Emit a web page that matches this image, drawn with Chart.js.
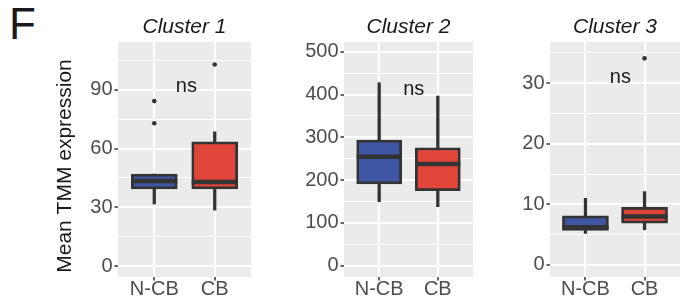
<!DOCTYPE html>
<html>
<head>
<meta charset="utf-8">
<script src="https://cdn.jsdelivr.net/npm/chart.js@4.4.1/dist/chart.umd.min.js"></script>
<style>
  html, body { margin: 0; padding: 0; background: #fff; }
  #wrap { position: relative; width: 684px; height: 301px; overflow: hidden; }
  #wrap canvas { position: absolute; top: 0; }
  #panelLetter {
    position: absolute; left: 9px; top: 2px;
    font: 44px/44px "Liberation Sans", Arial, sans-serif; color: #1a1a1a;
  }
</style>
</head>
<body>
<div id="wrap">
  <div id="panelLetter">F</div>
  <canvas id="c1" width="258" height="301" style="left:0px"></canvas>
  <canvas id="c2" width="210" height="301" style="left:266px"></canvas>
  <canvas id="c3" width="208" height="301" style="left:476px"></canvas>
</div>
<script>
const categories = ["N-CB", "CB"];
const clusterTitles = ["Cluster 1", "Cluster 2", "Cluster 3"];
const yAxisTitle = "Mean TMM expression";
const sigLabel = "ns";

// box stats, one value per category [N-CB, CB]
const cluster1Low = [31.7, 28.6];
const cluster1Q1 = [39.4, 39.4];
const cluster1Median = [43.4, 43.0];
const cluster1Q3 = [47.0, 63.5];
const cluster1High = [47.0, 68.6];
const cluster1Outliers = [[84.3, 73.0], [103.0]];

const cluster2Low = [149.5, 137.9];
const cluster2Q1 = [190.9, 175.2];
const cluster2Median = [254.7, 237.6];
const cluster2Q3 = [293.7, 275.7];
const cluster2High = [427.6, 396.5];
const cluster2Outliers = [[], []];

const cluster3Low = [5.2, 5.8];
const cluster3Q1 = [5.7, 6.9];
const cluster3Median = [6.2, 8.0];
const cluster3Q3 = [8.1, 9.5];
const cluster3High = [11.0, 12.1];
const cluster3Outliers = [[], [34.1]];

// y axes
const cluster1Range = [-5.6, 114.5];
const cluster1Ticks = [0, 30, 60, 90];
const cluster1Minor = [15, 45, 75, 105];
const cluster2Range = [-26.4, 522.7];
const cluster2Ticks = [0, 100, 200, 300, 400, 500];
const cluster2Minor = [50, 150, 250, 350, 450];
const cluster3Range = [-2.0, 36.8];
const cluster3Ticks = [0, 10, 20, 30];
const cluster3Minor = [5, 15, 25, 35];

// where the "ns" label sits: [x position, y value]
const cluster1Sig = [1.53, 92];
const cluster2Sig = [1.59, 412];
const cluster3Sig = [1.59, 31.0];

const FONT = "'Liberation Sans', Arial, Helvetica, sans-serif";
const boxColors = ["#3F56A5", "#E0453A"];
const ink = "#333333";
const tickInk = "#4D4D4D";

const panelDecor = {
    id: "panelDecor",
    beforeDraw(chart) {
        const { ctx, chartArea: a } = chart;
        ctx.save();
        ctx.fillStyle = "#EBEBEB";
        ctx.fillRect(a.left, a.top, a.right - a.left, a.bottom - a.top);
        ctx.restore();
    },
    afterDatasetsDraw(chart, args, opts) {
        const { ctx } = chart;
        const yScale = chart.scales.y;
        const boxes = chart.getDatasetMeta(1).data;
        ctx.save();
        ctx.strokeStyle = ink;
        ctx.lineWidth = 4.5;
        boxes.forEach((bar, i) => {
            const y = yScale.getPixelForValue(opts.medians[i]);
            ctx.beginPath();
            ctx.moveTo(bar.x - bar.width / 2, y);
            ctx.lineTo(bar.x + bar.width / 2, y);
            ctx.stroke();
        });
        ctx.restore();
    },
    afterDraw(chart, args, opts) {
        const { ctx, chartArea: a } = chart;
        ctx.save();
        ctx.fillStyle = "#1a1a1a";
        ctx.textAlign = "center";
        ctx.textBaseline = "alphabetic";
        ctx.font = "italic 21px " + FONT;
        ctx.fillText(opts.title, (a.left + a.right) / 2, 33);

        ctx.font = "20px " + FONT;
        ctx.textBaseline = "middle";
        ctx.fillText(sigLabel,
            chart.scales.x.getPixelForValue(opts.sig[0]),
            chart.scales.y.getPixelForValue(opts.sig[1]));

        if (opts.yTitle) {
            ctx.font = "21px " + FONT;
            ctx.textBaseline = "alphabetic";
            ctx.translate(70.5, 166);
            ctx.rotate(-Math.PI / 2);
            ctx.fillText(opts.yTitle, 0, 0);
        }
        ctx.restore();
    }
};

function makePanel(canvasId, cfg) {
    const major = cfg.ticks;
    const allTicks = major.concat(cfg.minor).sort((a, b) => a - b);

    const boxData = categories.map((c, i) => ({ x: i + 1, y: [cfg.q1[i], cfg.q3[i]] }));
    const whiskerData = categories.map((c, i) => ({ x: i + 1, y: [cfg.low[i], cfg.high[i]] }));
    const outlierData = [];
    cfg.outliers.forEach((list, i) => list.forEach(v => outlierData.push({ x: i + 1, y: v })));

    return new Chart(document.getElementById(canvasId), {
        type: "bar",
        data: {
            datasets: [
                {
                    type: "line",
                    data: outlierData,
                    showLine: false,
                    pointRadius: 2.3,
                    pointBackgroundColor: ink,
                    pointBorderWidth: 0,
                    order: 0
                },
                {
                    data: boxData,
                    backgroundColor: boxColors,
                    borderColor: ink,
                    borderWidth: 2.8,
                    borderSkipped: false,
                    barThickness: cfg.boxWidth,
                    grouped: false,
                    order: 1
                },
                {
                    data: whiskerData,
                    backgroundColor: ink,
                    borderWidth: 0,
                    barThickness: 2.6,
                    grouped: false,
                    order: 2
                }
            ]
        },
        options: {
            responsive: false,
            animation: false,
            events: [],
            layout: { padding: { left: 0, top: 42, right: cfg.padRight, bottom: 0 } },
            plugins: {
                legend: { display: false },
                tooltip: { enabled: false },
                panelDecor: {
                    title: cfg.title,
                    medians: cfg.median,
                    sig: cfg.sig,
                    yTitle: cfg.yTitle
                }
            },
            scales: {
                x: {
                    type: "linear",
                    min: 0.4,
                    max: 2.6,
                    offset: false,
                    afterBuildTicks: (s) => { s.ticks = categories.map((c, i) => ({ value: i + 1 })); },
                    afterFit: (s) => { s.height = 24; },
                    border: { display: false },
                    grid: {
                        offset: false,
                        color: "#FFFFFF",
                        lineWidth: 2,
                        tickColor: ink,
                        tickLength: 3.5,
                        tickWidth: 1.5
                    },
                    ticks: {
                        autoSkip: false,
                        maxRotation: 0,
                        padding: -1.2,
                        color: tickInk,
                        font: { family: FONT, size: 20, lineHeight: 1 },
                        callback: (v) => categories[v - 1]
                    }
                },
                y: {
                    type: "linear",
                    min: cfg.range[0],
                    max: cfg.range[1],
                    afterBuildTicks: (s) => { s.ticks = allTicks.map(v => ({ value: v })); },
                    afterFit: (s) => { s.width = cfg.axisWidth; },
                    border: { display: false },
                    grid: {
                        color: "#FFFFFF",
                        lineWidth: (c) => major.includes(c.tick.value) ? 2 : 1,
                        tickColor: (c) => major.includes(c.tick.value) ? ink : "rgba(0,0,0,0)",
                        tickLength: 3.5,
                        tickWidth: 1.5
                    },
                    ticks: {
                        autoSkip: false,
                        padding: 2,
                        color: tickInk,
                        font: { family: FONT, size: 20 },
                        callback: (v) => major.includes(v) ? String(v) : ""
                    }
                }
            }
        },
        plugins: [panelDecor]
    });
}

makePanel("c1", {
    title: clusterTitles[0], yTitle: yAxisTitle,
    low: cluster1Low, q1: cluster1Q1, median: cluster1Median, q3: cluster1Q3, high: cluster1High,
    outliers: cluster1Outliers, range: cluster1Range, ticks: cluster1Ticks, minor: cluster1Minor,
    sig: cluster1Sig, axisWidth: 118, padRight: 7, boxWidth: 46
});
makePanel("c2", {
    title: clusterTitles[1],
    low: cluster2Low, q1: cluster2Q1, median: cluster2Median, q3: cluster2Q3, high: cluster2High,
    outliers: cluster2Outliers, range: cluster2Range, ticks: cluster2Ticks, minor: cluster2Minor,
    sig: cluster2Sig, axisWidth: 78, padRight: 3, boxWidth: 45
});
makePanel("c3", {
    title: clusterTitles[2],
    low: cluster3Low, q1: cluster3Q1, median: cluster3Median, q3: cluster3Q3, high: cluster3High,
    outliers: cluster3Outliers, range: cluster3Range, ticks: cluster3Ticks, minor: cluster3Minor,
    sig: cluster3Sig, axisWidth: 74, padRight: 2, boxWidth: 46
});
</script>
</body>
</html>
